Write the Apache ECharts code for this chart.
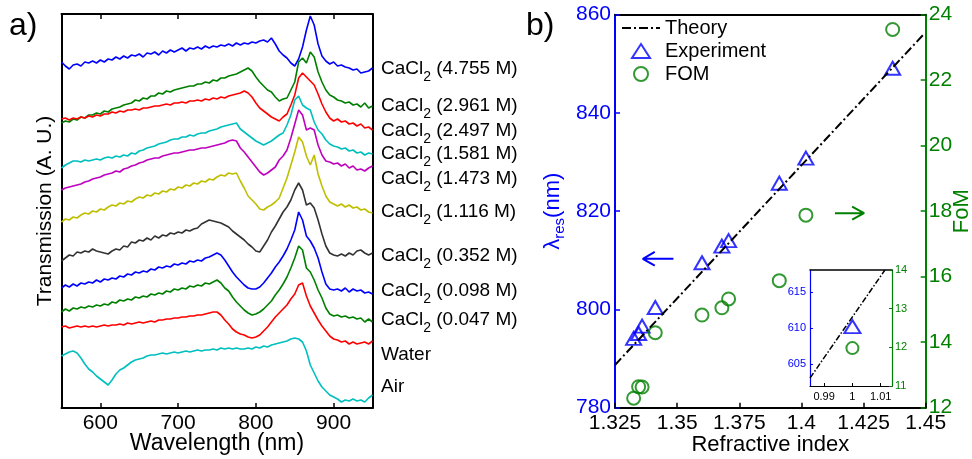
<!DOCTYPE html>
<html><head><meta charset="utf-8">
<script src="https://cdn.jsdelivr.net/npm/echarts@6/dist/echarts.min.js"></script>
<style>html,body{margin:0;padding:0;background:#fff}#chart{width:972px;height:459px}</style>
</head><body><div id="chart"></div>
<script>
// ---------- Panel a) : transmission spectra (offset, arbitrary units) ----------
const wavelengths = [550,555,560,565,570,575,580,585,590,595,600,605,610,615,620,625,630,635,640,645,650,655,660,665,670,675,680,685,690,695,700,705,710,715,720,725,730,735,740,745,750,755,760,765,770,775,780,785,790,795,800,805,810,815,820,825,830,835,840,845,850,855,860,865,870,875,880,885,890,895,900,905,910,915,920,925,930,935,940,945,950];
const cacl2_4755 = [348,344,341,345,346,344,348,347,349,347, 350,348,351,350,353,351,354,352,355,354, 356,353,357,356,358,355,359,357,360,358, 360,362,359,362,361,363,361,364,362,364, 363,365,364,366,364,367,365,367,366,368, 367,369,370,368,372,366,359,355,352,347, 344,351,363,380,394,385,366,354,349,346, 348,344,345,343,342,340,341,337,338,339, 342];
const cacl2_2961 = [287,289,288,291,290,293,292,295,295,297, 296,299,298,301,302,303,305,306,307,310, 309,312,311,314,314,317,316,319,318,320, 321,322,323,324,324,326,326,328,327,330, 329,332,332,334,335,336,338,340,342,339, 333,328,324,320,318,313,309,311,312,320, 328,348,352,347,358,353,338,328,320,315, 313,310,309,307,308,305,306,303,307,302, 304];
const cacl2_2497 = [291,292,290,292,291,293,292,294,293,295, 294,296,296,298,297,299,298,300,300,301, 300,302,302,303,304,304,305,306,305,307, 307,308,307,309,309,310,309,311,310,312, 311,313,312,314,315,316,317,319,317,313, 307,302,299,296,293,291,289,293,296,305, 315,332,337,333,329,325,316,306,298,292, 289,291,288,289,286,287,284,286,282,283, 280];
const cacl2_1581 = [242,245,247,249,249,248,250,249,250,251, 250,252,253,252,254,253,255,254,257,256, 259,260,262,263,264,266,267,268,270,271, 271,273,273,275,274,276,277,277,279,280, 281,283,284,285,286,287,281,278,275,272, 269,267,265,267,269,272,275,277,285,295, 310,314,305,302,300,288,280,276,270,266, 264,263,261,262,259,260,257,258,255,257, 256];
const cacl2_1473 = [220,222,223,224,225,226,228,229,231,232, 233,235,236,237,239,238,241,242,244,245, 247,248,250,251,252,252,254,255,256,257, 257,258,259,260,260,261,262,262,263,264, 265,266,267,269,270,269,262,258,253,248, 243,238,235,237,240,243,250,254,260,272, 286,300,295,280,282,280,265,255,249,248, 246,247,244,246,242,244,240,241,239,242, 244];
const cacl2_1116 = [188,191,190,193,192,195,197,196,199,198, 201,200,203,205,204,207,206,209,208,211, 213,212,215,214,217,216,219,218,221,220, 223,222,225,224,227,226,229,228,231,230, 233,235,234,237,236,237,229,222,214,210, 206,201,200,203,205,208,212,222,232,245, 258,273,268,254,245,255,236,224,214,208, 206,204,206,203,205,202,203,200,201,198, 197];
const cacl2_0352 = [149,152,155,154,158,157,159,158,161,159, 158,157,156,159,161,160,164,163,168,167, 170,169,172,170,174,172,175,174,177,176, 178,177,180,179,181,182,186,188,190,189, 188,187,185,183,179,176,173,170,166,163, 159,158,164,170,178,184,191,198,203,210, 220,227,220,205,207,202,190,176,164,157, 155,154,156,154,157,155,159,160,157,155, 157];
const cacl2_0098 = [122,125,123,126,124,127,126,128,127,130, 128,131,130,132,131,134,133,136,135,138, 137,139,138,141,140,143,142,144,143,146, 145,147,146,149,148,150,149,152,153,155, 157,155,150,144,138,133,129,125,122,121, 121,123,127,132,137,143,148,154,161,170, 180,198,190,174,169,162,152,138,126,121, 120,121,119,122,118,121,119,120,117,118, 116];
const cacl2_0047 = [98,101,99,102,101,103,102,104,103,105, 104,106,105,108,107,110,109,111,110,113, 112,114,113,116,115,117,116,119,118,121, 120,122,121,124,123,125,124,127,126,128, 130,127,122,119,113,108,104,100,97,95, 96,98,101,105,109,115,120,126,133,142, 152,164,160,142,138,130,120,112,102,96, 94,95,93,94,92,93,91,92,88,91, 88];
const water = [83,84,82,83,84,83,84,83,84,83, 84,85,84,85,85,86,85,87,86,87, 88,87,88,89,88,90,90,91,91,92, 92,93,93,94,94,95,95,96,97,98, 98,95,90,86,81,78,76,75,73,72, 73,75,79,83,88,93,97,101,105,111, 116,125,127,114,104,97,90,84,79,74, 71,70,68,69,66,68,66,67,68,66, 69];
const air = [54,56,58,59,57,52,46,41,38,34, 31,28,25,30,36,40,42,45,48,50, 51,52,54,55,55,56,57,56,57,58, 57,58,59,58,59,60,59,60,60,61, 60,62,61,62,61,62,61,61,62,61, 63,62,64,63,65,66,67,68,69,71, 72,71,68,59,45,37,29,23,19,15, 13,11,8,10,9,11,9,10,8,12, 15];
const concentrations = ['4.755','2.961','2.497','1.581','1.473','1.116','0.352','0.098','0.047'];
const otherLabels = ['Water','Air'];
const wavelengthTicks = [600,700,800,900];

// ---------- Panel b) : sensing ----------
const refractiveIndex = [1.3325,1.3345,1.3359,1.3412,1.3600,1.3680,1.3707,1.3911,1.4018,1.4367];
const resonanceNm = [794.1,795.1,796.6,800.4,809.5,812.9,814.0,825.7,830.8,849.1];
const fomValues = [12.29,12.64,12.63,14.29,14.83,15.05,15.32,15.88,17.88,23.55];
const theoryIndex = [1.325,1.449];
const theoryNm = [788.7,855.9];
// inset (air, n = 1)
const insetIndex = [1];
const insetResonance = [610.2];
const insetFom = [11.98];
const insetTheoryIndex = [0.985,1.0115];
const insetTheoryNm = [603.1,618.0];
const insetIndexTicks = [0.99,1,1.01];
const insetNmTicks = [605,610,615];
// annotation arrows (data coordinates)
const arrowLambdaN = [1.3485,1.3362,1.3410,1.3362,1.3410];
const arrowLambdaV = [810.3,810.3,811.7,810.3,808.9];
const arrowFomN = [1.4135,1.4252,1.4204,1.4252,1.4204];
const arrowFomV = [17.94,17.94,18.14,17.94,17.74];

// ---------- build ----------
const F = 'Liberation Sans, Arial, Helvetica, sans-serif';
const BLUE = '#0000FF', GREEN = '#008000', RED = '#FF0000', CYAN = '#00BFBF', MAG = '#BF00BF', OLIVE = '#BFBF00', DARK = '#333333';
const spectraList = [cacl2_4755,cacl2_2961,cacl2_2497,cacl2_1581,cacl2_1473,cacl2_1116,cacl2_0352,cacl2_0098,cacl2_0047,water,air];
const spectraColors = [BLUE,GREEN,RED,CYAN,MAG,OLIVE,DARK,BLUE,GREEN,RED,CYAN];
const spectraNames = concentrations.map(c => 'CaCl2 (' + c + ' M)').concat(otherLabels);
const labelCenters = [69,106,131,154,179,212,256,291,320,355,387];

const pairs = (xs, ys) => xs.map((x, i) => [x, ys[i]]);

const series = [];
spectraList.forEach((vals, k) => {
  series.push({
    name: spectraNames[k], type: 'line', xAxisIndex: 0, yAxisIndex: 0,
    data: pairs(wavelengths, vals), showSymbol: false, symbol: 'none', silent: true,
    lineStyle: {color: spectraColors[k], width: 1.6}, itemStyle: {color: spectraColors[k]}
  });
});
series.push({name: 'Theory', type: 'line', xAxisIndex: 2, yAxisIndex: 2, data: pairs(theoryIndex, theoryNm),
  symbol: 'none', showSymbol: false, silent: true, clip: true,
  lineStyle: {color: '#000', width: 2, type: [9, 3, 2, 3]}, itemStyle: {color: '#000'}});
series.push({name: 'Experiment', type: 'scatter', xAxisIndex: 2, yAxisIndex: 2, data: pairs(refractiveIndex, resonanceNm),
  symbol: 'triangle', symbolSize: [15, 13], silent: true,
  itemStyle: {color: 'rgba(0,0,0,0)', borderColor: BLUE, borderWidth: 2}});
series.push({name: 'FOM', type: 'scatter', xAxisIndex: 2, yAxisIndex: 3, data: pairs(refractiveIndex, fomValues),
  symbol: 'circle', symbolSize: 13, silent: true,
  itemStyle: {color: 'rgba(0,0,0,0)', borderColor: GREEN, borderWidth: 2}});
series.push({name: 'arrowLambda', type: 'line', xAxisIndex: 2, yAxisIndex: 2, data: pairs(arrowLambdaN, arrowLambdaV),
  symbol: 'none', silent: true, lineStyle: {color: BLUE, width: 2}});
series.push({name: 'arrowFom', type: 'line', xAxisIndex: 2, yAxisIndex: 3, data: pairs(arrowFomN, arrowFomV),
  symbol: 'none', silent: true, lineStyle: {color: GREEN, width: 2}});
series.push({name: 'Theory (inset)', type: 'line', xAxisIndex: 4, yAxisIndex: 4, data: pairs(insetTheoryIndex, insetTheoryNm),
  symbol: 'none', silent: true, clip: true, z: 5, lineStyle: {color: '#000', width: 1.5, type: [6, 2, 1.5, 2]}});
series.push({name: 'Experiment (inset)', type: 'scatter', xAxisIndex: 4, yAxisIndex: 4, data: pairs(insetIndex, insetResonance),
  symbol: 'triangle', symbolSize: [16, 13], silent: true, z: 5,
  itemStyle: {color: 'rgba(0,0,0,0)', borderColor: BLUE, borderWidth: 2}});
series.push({name: 'FOM (inset)', type: 'scatter', xAxisIndex: 4, yAxisIndex: 5, data: pairs(insetIndex, insetFom),
  symbol: 'circle', symbolSize: 12, silent: true, z: 5,
  itemStyle: {color: 'rgba(0,0,0,0)', borderColor: GREEN, borderWidth: 2}});

const lineAx = (c, w) => ({show: true, onZero: false, lineStyle: {color: c, width: w}});
const noSplit = {show: false};

const xAxis = [
  {gridIndex: 0, type: 'value', min: 550, max: 950, position: 'bottom', axisLine: lineAx('#000', 2),
   axisTick: {show: true, inside: true, length: 5, customValues: wavelengthTicks, lineStyle: {color: '#000', width: 1.5}},
   axisLabel: {customValues: wavelengthTicks, fontSize: 21, color: '#000', margin: 5, fontFamily: F},
   splitLine: noSplit, name: 'Wavelength (nm)', nameLocation: 'middle', nameGap: 24, nameMoveOverlap: false,
   nameTextStyle: {fontSize: 23, color: '#000', fontFamily: F}},
  {gridIndex: 0, type: 'value', min: 550, max: 950, position: 'top', axisLine: lineAx('#000', 2),
   axisTick: {show: true, inside: true, length: 5, customValues: wavelengthTicks, lineStyle: {color: '#000', width: 1.5}},
   axisLabel: {show: false}, splitLine: noSplit},
  {gridIndex: 1, type: 'value', min: 1.325, max: 1.45, interval: 0.025, position: 'bottom', axisLine: lineAx('#000', 2),
   axisTick: {show: true, inside: true, length: 5, lineStyle: {color: '#000', width: 1.5}},
   axisLabel: {fontSize: 21, color: '#000', margin: 5, fontFamily: F}, splitLine: noSplit,
   name: 'Refractive index', nameLocation: 'middle', nameGap: 26, nameMoveOverlap: false,
   nameTextStyle: {fontSize: 22, color: '#000', fontFamily: F}},
  {gridIndex: 1, type: 'value', min: 1.325, max: 1.45, position: 'top', axisLine: lineAx('#000', 2),
   axisTick: {show: false}, axisLabel: {show: false}, splitLine: noSplit},
  {gridIndex: 2, type: 'value', min: 0.985, max: 1.014, position: 'bottom', axisLine: lineAx('#000', 1.2),
   axisTick: {show: true, inside: true, length: 3, customValues: insetIndexTicks, lineStyle: {color: '#000'}},
   axisLabel: {customValues: insetIndexTicks, fontSize: 11, color: '#000', margin: 5, fontFamily: F}, splitLine: noSplit},
  {gridIndex: 2, type: 'value', min: 0.985, max: 1.014, position: 'top', axisLine: lineAx('#000', 1.5),
   axisTick: {show: false}, axisLabel: {show: false}, splitLine: noSplit}
];

const yAxis = [
  {gridIndex: 0, type: 'value', min: 2, max: 396, position: 'left', axisLine: lineAx('#000', 2),
   axisTick: {show: false}, axisLabel: {show: false}, splitLine: noSplit,
   name: 'Transmission (A. U.)', nameLocation: 'middle', nameGap: 6, nameMoveOverlap: false,
   nameTextStyle: {fontSize: 21, color: '#000', fontFamily: F}},
  {gridIndex: 0, type: 'value', min: 2, max: 396, position: 'right', axisLine: lineAx('#000', 2),
   axisTick: {show: false}, axisLabel: {show: false}, splitLine: noSplit},
  {gridIndex: 1, type: 'value', min: 780, max: 860, interval: 20, position: 'left', axisLine: lineAx(BLUE, 2),
   axisTick: {show: true, inside: true, length: 5, lineStyle: {color: BLUE, width: 1.5}},
   axisLabel: {fontSize: 21, color: BLUE, margin: 4, fontFamily: F}, splitLine: noSplit,
   name: '{l|λ}{s|res}{l|(nm)}', nameLocation: 'middle', nameGap: 51, nameMoveOverlap: false,
   nameTextStyle: {color: BLUE, fontSize: 22, fontFamily: F, rich: {
     l: {fontSize: 22, color: BLUE, fontFamily: F, lineHeight: 22, verticalAlign: 'top'},
     s: {fontSize: 15, color: BLUE, fontFamily: F, lineHeight: 15, padding: [10, 0, 0, 0], verticalAlign: 'top'}}}},
  {gridIndex: 1, type: 'value', min: 12, max: 24, interval: 2, position: 'right', axisLine: lineAx(GREEN, 2),
   axisTick: {show: true, inside: true, length: 5, lineStyle: {color: GREEN, width: 1.5}},
   axisLabel: {fontSize: 21, color: GREEN, margin: 3, fontFamily: F}, splitLine: noSplit,
   name: 'FoM', nameLocation: 'middle', nameGap: 25, nameMoveOverlap: false,
   nameTextStyle: {fontSize: 22, color: GREEN, fontFamily: F}},
  {gridIndex: 2, type: 'value', min: 602, max: 618, position: 'left', axisLine: lineAx(BLUE, 1.2),
   axisTick: {show: true, inside: true, length: 3, customValues: insetNmTicks, lineStyle: {color: BLUE}},
   axisLabel: {customValues: insetNmTicks, fontSize: 11, color: BLUE, margin: 4, fontFamily: F}, splitLine: noSplit},
  {gridIndex: 2, type: 'value', min: 11, max: 14, interval: 1, position: 'right', axisLine: lineAx(GREEN, 1.2),
   axisTick: {show: true, inside: true, length: 3, lineStyle: {color: GREEN}},
   axisLabel: {fontSize: 11, color: GREEN, margin: 3, fontFamily: F}, splitLine: noSplit}
];

const labelRich = {
  m: {fontSize: 19, fontFamily: F, color: '#000', lineHeight: 20, verticalAlign: 'top'},
  s: {fontSize: 14, fontFamily: F, color: '#000', lineHeight: 14, padding: [11, 0, 0, 0], verticalAlign: 'top'}
};
const graphic = [];
spectraNames.forEach((nm, k) => {
  const txt = k < concentrations.length ? '{m|CaCl}{s|2}{m| (' + concentrations[k] + ' M)}' : '{m|' + nm + '}';
  graphic.push({type: 'text', x: 381, y: labelCenters[k] - 10, silent: true,
    style: {text: txt, rich: labelRich, verticalAlign: 'top', align: 'left', fill: '#000'}});
});
graphic.push({type: 'text', x: 9, y: 10, silent: true, style: {text: 'a)', font: '32px ' + F, fill: '#000', verticalAlign: 'top'}});
graphic.push({type: 'text', x: 526, y: 10, silent: true, style: {text: 'b)', font: '32px ' + F, fill: '#000', verticalAlign: 'top'}});

const option = {
  animation: false,
  backgroundColor: '#fff',
  textStyle: {fontFamily: F},
  tooltip: {show: false},
  grid: [
    {left: 61.5, top: 14, width: 311, height: 394, outerBoundsMode: 'none', containLabel: false},
    {left: 615, top: 14.7, width: 310.7, height: 393, outerBoundsMode: 'none', containLabel: false},
    {left: 810, top: 270, width: 82, height: 116, show: true, backgroundColor: '#fff', borderWidth: 0, outerBoundsMode: 'none', containLabel: false}
  ],
  legend: {show: true, orient: 'vertical', left: 616, top: 13,
    data: [
      {name: 'Theory', itemStyle: {color: 'rgba(0,0,0,0)', borderColor: 'rgba(0,0,0,0)', borderWidth: 0, opacity: 0}},
      {name: 'Experiment', icon: 'path://M9,0 L18,14 L0,14 Z'},
      {name: 'FOM'}
    ],
    itemWidth: 38, itemHeight: 14, itemGap: 3, selectedMode: false, symbolKeepAspect: true,
    textStyle: {fontSize: 20, color: '#000', fontFamily: F, lineHeight: 20}},
  xAxis, yAxis, series, graphic
};

const chart = echarts.init(document.getElementById('chart'), null, {renderer: 'canvas'});
chart.setOption(option);
</script></body></html>
